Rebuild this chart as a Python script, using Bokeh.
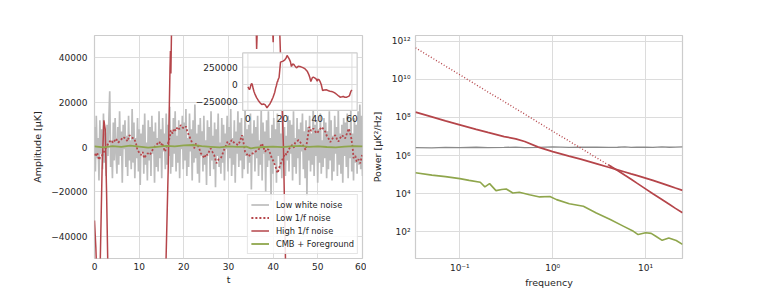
import numpy as np
from bokeh.plotting import figure
from bokeh.layouts import row
from bokeh.models import Range1d, FixedTicker, Legend, LegendItem
from bokeh.core.properties import value
from bokeh.embed import file_html
from bokeh.resources import INLINE

FONT = "DejaVu Sans"
TXT = "#262626"
GRID = "#dcdcdc"
EDGE = "#cccccc"
GREY = "#bdbdbd"
GREY_DARK = "#8a8a8a"
RED = "#b5454a"
GREEN = "#8fa64c"

# ---------------- time-domain data (left panel) ----------------
# white noise samples, in thousands of µK (evenly spaced over 0..60 s)
white_noise_k = [
    9, -11, 14, -5, 4, -15, 12, -3, 8, -10, 15, -7, 6, -13, 10, -4, 12, 25, -9, 3,
    -14, 11, -6, 13, -2, -12, 9, -8, 16, -4, 7, -16, 10, -1, 12, -9, 5, -13, 14, -6,
    3, -10, 17, -7, 11, -14, 4, -5, 13, -11, 8, -17, 6, -2, 10, -12, 15, -8, 2, -15,
    12, -6, 9, -13, 14, -3, 7, -16, 11, -9, 4, -11, 16, -5, 8, -14, 13, -2, 6, -10,
    15, -8, 10, -4, 18, -12, 7, -9, 13, -3, 16, -11, 5, -7, 12, -14, 9, -1, 14, -10,
    11, -6, 17, -13, 4, -9, 15, -2, 8, -15, 12, -7, 19, -5, 6, -12, 10, -16, 13, -4,
    7, -11, 14, -8, 3, -17, 12, -3, 9, -13, 16, -6, 5, -10, 11, -18, 8, -4, 15, -9,
    2, -12, 13, -7, 10, -15, 6, -1, 14, -11, 9, -5, 17, -13, 4, -8, 12, -16, 7, -3,
    16, -9, 11, -6, 13, -14, 5, -10, 18, -4, 8, -12, 10, -7, 15, -19, 6, -2, 12, -11,
    9, -5, 14, -13, 3, -8, 17, -15, 11, -3, 7, -20, 12, -9, 16, -6, 4, -24, 10, -12,
    13, -7, 8, -16, 15, -4, 11, -10, 6, -14, 18, -8, 9, -13, 5, -6, 14, -11, 12, -3,
    10, -15, 16, -9, 4, -12, 13, -5, 8, -17, 11, -2, 15, -10, 7, -14, 12, -22, 9, -6,
    14, -11, 6, -8, 17, -13, 10, -4, 12, -16, 8, -7, 15, -12, 3, -9, 13, -5, 11, -14,
    7, -10, 16, -6, 12, -15, 5, -11, 14, -3, 9, -13, 17, -8, 6, -12, 10, -16, 13, -4,
    11, -9, 15, -14, 8, -5, 18, -11, 6, -15, 13, -7, 10, -12, 16, -8, 19, -10, 14, -13,
]

low_1f = [
    (0.0, -3000), (0.3, -4300), (0.6, -2500), (1.0, -5800), (1.4, -4000), (1.8, -3600),
    (2.3, -1200), (2.9, 900), (3.3, 2200), (3.7, 3100), (4.2, 1800), (4.8, 3800),
    (5.3, 2000), (5.9, 3100), (6.4, 4500), (7.0, 3800), (7.4, 2500), (7.8, 5300),
    (8.3, 4200), (8.9, 3800), (9.3, 1500), (9.6, -1300), (10.0, -2500), (10.4, -3600),
    (10.8, -2200), (11.1, -5000), (11.5, -3800), (11.9, -2800), (12.4, -3500), (13.0, -1300),
    (13.4, -200), (13.7, 900), (14.1, 1500), (14.5, 2400), (14.9, 800), (15.2, 1800),
    (15.5, -500), (15.8, -2100), (16.2, 500), (16.6, 2400), (16.9, 5000), (17.1, 7500),
    (17.5, 6000), (17.8, 8300), (18.2, 7200), (18.6, 9000), (19.0, 8000), (19.3, 9800),
    (19.7, 8800), (20.1, 8300), (20.5, 9200), (20.8, 6800), (21.2, 5000), (21.6, 3100),
    (22.0, 1200), (22.3, -600), (22.7, 1500), (23.1, 900), (23.5, -1000), (23.8, -2800),
    (24.2, -3800), (24.6, -5000), (25.0, -3000), (25.3, -3600), (25.7, -1800), (26.0, -600),
    (26.4, -2200), (26.8, -3600), (27.3, -7300), (27.8, -5500), (28.3, -5000), (28.7, -3000),
    (29.0, -1300), (29.4, 500), (29.8, 2400), (30.2, 1200), (30.7, 3100), (31.4, 1600),
    (32.2, 900), (32.6, 2800), (33.0, 5300), (33.4, 1500), (33.7, -2100), (34.1, -3200),
    (34.5, -4300), (35.0, -3000), (35.6, -2800), (36.2, -1800), (36.7, -1300), (37.1, 200),
    (37.5, 1600), (37.9, -500), (38.2, -2100), (38.6, -800), (39.0, -1300), (39.4, -3200),
    (39.7, -5000), (40.1, -6500), (40.5, -8700), (41.0, -11700), (41.4, -9000), (41.9, -6500),
    (42.3, -4500), (42.7, -2800), (43.0, -3500), (43.4, -1300), (43.8, -200), (44.2, 900),
    (44.6, -300), (44.9, 1800), (45.3, 2500), (45.7, 3100), (46.2, 1800), (46.6, 900),
    (47.0, -500), (47.3, -1300), (47.7, 4000), (48.1, 9000), (48.5, 7200), (49.0, 8300),
    (49.4, 7000), (49.8, 6100), (50.3, 7500), (50.9, 9000), (51.3, 7800), (51.7, 6800),
    (52.0, 5000), (52.4, 3800), (52.8, 2200), (53.1, 3100), (53.5, 4500), (53.9, 5300),
    (54.3, 3500), (54.6, 2400), (55.0, 4000), (55.4, 5300), (55.8, 4500), (56.1, 3800),
    (56.5, 6000), (56.9, 8300), (57.2, 6500), (57.5, 3800), (57.8, -500), (58.0, -5000),
    (58.4, -4000), (58.7, -6500), (59.1, -5500), (59.5, -7300), (59.9, -3600),
]

high_1f = [
    (0.0, -33000), (0.3, -45000), (0.6, -62000), (0.9, -75000), (1.3, -50000), (1.7, -10000),
    (2.1, 12000), (2.4, 8000), (2.7, -20000), (3.0, -55000), (3.5, -100000), (4.0, -135000),
    (5.0, -190000), (6.0, -230000), (7.0, -262000), (8.0, -288000), (9.0, -280000),
    (10.0, -295000), (11.0, -336000), (12.0, -300000), (12.5, -288000), (13.5, -240000),
    (14.5, -183000), (15.5, -110000), (16.0, -52000), (16.5, -10000), (16.9, 35000),
    (17.0, 43000), (17.1, 33000), (17.3, 60000), (18.0, 106000), (18.8, 322000),
    (19.5, 330000), (20.3, 337000), (21.3, 356000), (22.0, 380000), (22.6, 418000),
    (23.2, 395000), (23.8, 370000), (24.5, 330000), (25.1, 260000), (25.8, 295000),
    (26.5, 288000), (27.2, 265000), (28.0, 240000), (29.0, 262000), (30.0, 260000),
    (31.0, 250000), (32.0, 240000), (33.0, 225000), (34.2, 192000), (35.0, 150000),
    (35.6, 110000), (36.3, 44000), (36.8, 75000), (37.2, 100000), (37.7, 106000),
    (38.5, 95000), (39.3, 82000), (40.0, 47000), (40.3, 75000), (41.0, 70000),
    (41.5, 50000), (42.3, 0), (42.8, -55000), (43.1, -87000), (44.0, -80000),
    (45.4, -77000), (46.5, -90000), (47.4, -96000), (48.3, -100000), (49.3, -110000),
    (50.3, -125000), (51.3, -144000), (52.3, -165000), (53.2, -183000), (54.2, -178000),
    (55.1, -173000), (56.0, -185000), (57.0, -183000), (58.0, -170000), (58.6, -159000),
    (59.4, -96000), (60.0, -80000),
]

cmb_fg = [
    (0, 300), (2, -200), (4, 400), (6, 100), (8, 600), (10, 200), (12, -300), (14, 100),
    (16, 500), (18, 300), (20, 700), (22, 900), (24, 400), (26, 100), (28, -200), (30, 300),
    (32, 100), (34, 200), (35, -600), (36, -300), (38, 0), (40, 200), (42, -100), (44, 300),
    (46, 500), (48, 100), (50, 300), (52, 0), (54, -200), (56, 200), (58, 400), (60, 300),
]

amp_ticks = [-40000, -20000, 0, 20000, 40000]
t_ticks = [0, 10, 20, 30, 40, 50, 60]
inset_x_ticks = [0, 20, 40, 60]
inset_y_ticks = [-250000, 0, 250000]

# ---------------- spectra (right panel) ----------------
psd_freq = [0.0333, 0.05, 0.07, 0.1, 0.15, 0.2, 0.3, 0.4, 0.5, 0.7, 1.0, 1.5, 2.0,
            3.0, 4.0, 5.0, 6.0, 7.0, 8.0, 10.0, 12.0, 15.0, 18.0, 21.0, 25.0]
psd_white = [2.65e6, 2.55e6, 2.7e6, 2.6e6, 2.75e6, 2.6e6, 2.7e6, 2.8e6, 2.65e6, 2.7e6,
             2.85e6, 2.7e6, 2.75e6, 2.8e6, 2.7e6, 2.75e6, 2.85e6, 2.7e6, 2.8e6, 2.75e6,
             2.7e6, 2.85e6, 2.75e6, 2.8e6, 2.85e6]
psd_low_1f = [4.5e11, 1.35e11, 5.0e10, 1.74e10, 5.2e9, 2.2e9, 6.8e8, 2.9e8, 1.5e8, 5.5e7,
              1.9e7, 5.8e6, 2.5e6, 7.4e5, 3.2e5, 1.66e5, 9.3e4, 5.8e4, 3.7e4, 1.8e4,
              1.0e4, 5.0e3, 2.8e3, 1.7e3, 1.0e3]
psd_high_1f = [1.9e8, 1.07e8, 6.6e7, 4.1e7, 2.4e7, 1.66e7, 1.0e7, 7.6e6, 5.5e6, 2.8e6,
               1.6e6, 9.5e5, 6.6e5, 3.7e5, 2.45e5, 1.8e5, 1.38e5, 1.1e5, 9.1e4, 6.6e4,
               5.0e4, 3.5e4, 2.6e4, 2.0e4, 1.5e4]
cmb_freq = [0.0333, 0.05, 0.07, 0.1, 0.126, 0.166, 0.186, 0.209, 0.245, 0.282, 0.316,
            0.372, 0.437, 0.562, 0.724, 0.933, 1.10, 1.51, 2.14, 2.95, 4.17, 5.75, 7.41,
            8.32, 10.0, 11.5, 12.9, 15.1, 17.8, 21.4, 25.0]
psd_cmb = [1.26e5, 9.5e4, 7.9e4, 6.2e4, 5.0e4, 4.0e4, 2.3e4, 3.4e4, 1.45e4, 1.66e4, 1.78e4,
           1.1e4, 1.2e4, 8.9e3, 6.8e3, 7.2e3, 4.9e3, 3.0e3, 2.2e3, 980, 440, 200, 107,
           72, 89, 83, 59, 36, 48, 35, 22]
freq_ticks = [0.1, 1, 10]
freq_labels = ["10⁻¹", "10⁰", "10¹"]
pow_ticks = [1e2, 1e4, 1e6, 1e8, 1e10, 1e12]
pow_labels = ["10²", "10⁴", "10⁶", "10⁸", "10¹⁰", "10¹²"]


def style(p):
    p.background_fill_color = "white"
    p.border_fill_color = "white"
    p.outline_line_color = EDGE
    p.outline_line_width = 1.2
    p.grid.grid_line_color = GRID
    p.grid.grid_line_width = 1
    for ax in p.axis:
        ax.axis_line_color = None
        ax.major_tick_line_color = None
        ax.minor_tick_line_color = None
        ax.major_tick_out = 0
        ax.major_tick_in = 0
        ax.minor_tick_out = 0
        ax.minor_tick_in = 0
        ax.major_label_text_font = FONT
        ax.major_label_text_font_size = "9px"
        ax.major_label_text_color = TXT
        ax.axis_label_text_font = FONT
        ax.axis_label_text_font_size = "9.5px"
        ax.axis_label_text_font_style = "normal"
        ax.axis_label_text_color = TXT


def minus(v):
    return ("%d" % v).replace("-", "\u2212")


# ---------------- left panel ----------------
p1 = figure(width=366, height=290, output_backend="svg", toolbar_location=None,
            x_range=Range1d(0, 60), y_range=Range1d(-50000, 50000),
            min_border_left=94, min_border_right=4, min_border_top=35, min_border_bottom=32)
style(p1)
p1.xaxis.axis_label = "t"
p1.yaxis.axis_label = "Amplitude [µK]"
p1.xaxis.ticker = FixedTicker(ticks=t_ticks)
p1.yaxis.ticker = FixedTicker(ticks=amp_ticks)
p1.yaxis.major_label_overrides = {v: minus(v) for v in amp_ticks}
p1.xaxis.major_label_standoff = 4
p1.xaxis.axis_label_standoff = 1
p1.yaxis.major_label_standoff = 7
p1.yaxis.axis_label_standoff = 5

t_white = np.linspace(0, 60, len(white_noise_k))
r_white = p1.line(t_white, np.array(white_noise_k) * 1000.0, line_color=GREY, line_width=1.7)
lt, lv = zip(*low_1f)
r_low = p1.line(list(lt), list(lv), line_color=RED, line_width=1.8, line_dash="2 2")
ht, hv = zip(*high_1f)
r_high = p1.line(list(ht), list(hv), line_color=RED, line_width=1.5)
ct, cv = zip(*cmb_fg)
r_cmb = p1.line(list(ct), list(cv), line_color=GREEN, line_width=1.8)

# inset (drawn on extra ranges mapped to a sub-box of the frame)
ins_x_lo = min(ht) - 0.05 * (max(ht) - min(ht))
ins_x_hi = max(ht) + 0.05 * (max(ht) - min(ht))
ins_y_lo = min(hv) - 0.05 * (max(hv) - min(hv))
ins_y_hi = max(hv) + 0.05 * (max(hv) - min(hv))
FX0, FX1 = 0.553, 0.980
FY0, FY1 = 0.664, 0.922
sx = (ins_x_hi - ins_x_lo) / (FX1 - FX0)
sy = (ins_y_hi - ins_y_lo) / (FY1 - FY0)
p1.extra_x_ranges = {"ix": Range1d(ins_x_lo - FX0 * sx, ins_x_lo - FX0 * sx + sx)}
p1.extra_y_ranges = {"iy": Range1d(ins_y_lo - FY0 * sy, ins_y_lo - FY0 * sy + sy)}
kw = dict(x_range_name="ix", y_range_name="iy")
p1.quad(left=[ins_x_lo], right=[ins_x_hi], bottom=[ins_y_lo], top=[ins_y_hi],
        fill_color="white", line_color=EDGE, line_width=1.2, **kw)
p1.segment(x0=inset_x_ticks, x1=inset_x_ticks, y0=[ins_y_lo] * 4, y1=[ins_y_hi] * 4,
           line_color=GRID, line_width=1, **kw)
p1.segment(x0=[ins_x_lo] * 3, x1=[ins_x_hi] * 3, y0=inset_y_ticks, y1=inset_y_ticks,
           line_color=GRID, line_width=1, **kw)
p1.line(list(ht), list(hv), line_color=RED, line_width=1.5, **kw)
p1.text(x=inset_x_ticks, y=[ins_y_lo] * 4, text=[str(v) for v in inset_x_ticks],
        text_font=value(FONT), text_font_size="9px", text_color=TXT,
        text_align="center", text_baseline="top", y_offset=5, **kw)
p1.text(x=[ins_x_lo] * 3, y=inset_y_ticks, text=[minus(v) for v in inset_y_ticks],
        text_font=value(FONT), text_font_size="9px", text_color=TXT,
        text_align="right", text_baseline="middle", x_offset=-5, **kw)

legend = Legend(items=[
    LegendItem(label="Low white noise", renderers=[r_white]),
    LegendItem(label="Low 1/f noise", renderers=[r_low]),
    LegendItem(label="High 1/f noise", renderers=[r_high]),
    LegendItem(label="CMB + Foreground", renderers=[r_cmb]),
], location="bottom_right")
legend.label_text_font = FONT
legend.label_text_font_size = "8.3px"
legend.label_text_color = TXT
legend.border_line_color = EDGE
legend.background_fill_alpha = 0.85
legend.glyph_width = 18
legend.glyph_height = 13
legend.label_height = 13
legend.spacing = 0
legend.padding = 3
legend.margin = 4
legend.label_standoff = 7
p1.add_layout(legend)

# ---------------- right panel ----------------
p2 = figure(width=384, height=290, output_backend="svg", toolbar_location=None,
            x_axis_type="log", y_axis_type="log",
            x_range=Range1d(0.0333, 25), y_range=Range1d(4, 2.0e12),
            min_border_left=49, min_border_right=68, min_border_top=35, min_border_bottom=32)
style(p2)
p2.xaxis.axis_label = "frequency"
p2.yaxis.axis_label = "Power [µK²/Hz]"
p2.xaxis.ticker = FixedTicker(ticks=freq_ticks)
p2.yaxis.ticker = FixedTicker(ticks=pow_ticks)
p2.xaxis.major_label_overrides = dict(zip(freq_ticks, freq_labels))
p2.yaxis.major_label_overrides = dict(zip(pow_ticks, pow_labels))
p2.xaxis.major_label_standoff = 4
p2.xaxis.axis_label_standoff = 1
p2.yaxis.major_label_standoff = 5
p2.yaxis.axis_label_standoff = 6

p2.line(psd_freq, psd_white, line_color=GREY_DARK, line_width=1.3)
f_arr = np.array(psd_freq)
dot_part = f_arr <= 5.0
solid_part = f_arr >= 4.0
p2.line(list(f_arr[dot_part]), list(np.array(psd_low_1f)[dot_part]),
        line_color=RED, line_width=1.4, line_dash="1 2")
p2.line(list(f_arr[solid_part]), list(np.array(psd_low_1f)[solid_part]),
        line_color=RED, line_width=1.7)
p2.line(psd_freq, psd_high_1f, line_color=RED, line_width=1.8)
p2.line(cmb_freq, psd_cmb, line_color=GREEN, line_width=1.6)

layout = row(p1, p2)
open("out.html", "w").write(file_html(layout, INLINE))
